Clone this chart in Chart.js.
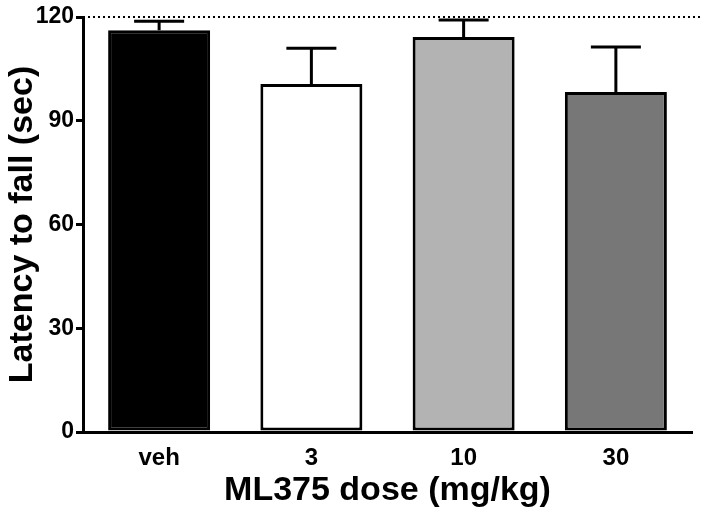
<!DOCTYPE html>
<html><head><meta charset="utf-8">
<script src="https://cdn.jsdelivr.net/npm/chart.js@4/dist/chart.umd.min.js"></script>
<style>html,body{margin:0;padding:0;background:#fff}#wrap{width:704px;height:517px}</style>
</head><body><div id="wrap"><canvas id="c" width="704" height="517"></canvas></div>
<script>
const categories = ['veh', '3', '10', '30'];
const means = [116.2, 100.6, 114.2, 98.3];
const errTops = [118.8, 111.0, 119.1, 111.3];
const barColors = ['#000000', '#ffffff', '#b3b3b3', '#777777'];
const yTicks = [0, 30, 60, 90, 120];
const refLine = 120;
const FONT = '"Liberation Sans", Arial, sans-serif';

const errorBars = {
  id: 'errorBars',
  afterDatasetsDraw(chart) {
    const ctx = chart.ctx, meta = chart.getDatasetMeta(0), y = chart.scales.y;
    ctx.save();
    ctx.strokeStyle = '#000'; ctx.lineWidth = 3;
    meta.data.forEach((bar, i) => {
      const top = y.getPixelForValue(errTops[i]);
      const base = y.getPixelForValue(means[i]);
      ctx.beginPath();
      ctx.moveTo(bar.x, base); ctx.lineTo(bar.x, top);
      ctx.moveTo(bar.x - 25, top); ctx.lineTo(bar.x + 25, top);
      ctx.stroke();
    });
    const ry = y.getPixelForValue(refLine);
    ctx.lineWidth = 2; ctx.setLineDash([2, 3]);
    ctx.beginPath(); ctx.moveTo(chart.chartArea.left + 5, ry); ctx.lineTo(700, ry); ctx.stroke();
    ctx.restore();
  }
};

new Chart(document.getElementById('c'), {
  type: 'bar',
  data: { labels: categories, datasets: [{ data: means, backgroundColor: barColors, borderColor: '#000', borderWidth: 3, borderSkipped: false, categoryPercentage: 0.67, barPercentage: 1 }] },
  options: {
    responsive: false, animation: false,
    layout: { padding: { top: 17, right: 12, left: 0, bottom: 0 } },
    plugins: { legend: { display: false }, tooltip: { enabled: false } },
    scales: {
      x: {
        grid: { display: false },
        border: { color: '#000', width: 3 },
        ticks: { color: '#000', font: { family: FONT, size: 24, weight: 'bold' }, padding: 4 },
        title: { display: true, text: 'ML375 dose (mg/kg)', color: '#000', font: { family: FONT, size: 34, weight: 'bold' }, padding: { top: 0, bottom: 6 } },
        afterFit: s => { s.height = 85; }
      },
      y: {
        min: 0, max: 120,
        afterBuildTicks: s => { s.ticks = yTicks.map(v => ({ value: v })); },
        grid: { drawOnChartArea: false, drawTicks: true, tickLength: 7, color: '#000', lineWidth: 3 },
        border: { color: '#000', width: 3 },
        ticks: { color: '#000', font: { family: FONT, size: 23, weight: 'bold' }, padding: 2 },
        title: { display: true, text: 'Latency to fall (sec)', color: '#000', font: { family: FONT, size: 34, weight: 'bold' }, padding: { top: 2, bottom: 2 } },
        afterFit: s => { s.width = 83; }
      }
    }
  },
  plugins: [errorBars]
});
</script></body></html>
